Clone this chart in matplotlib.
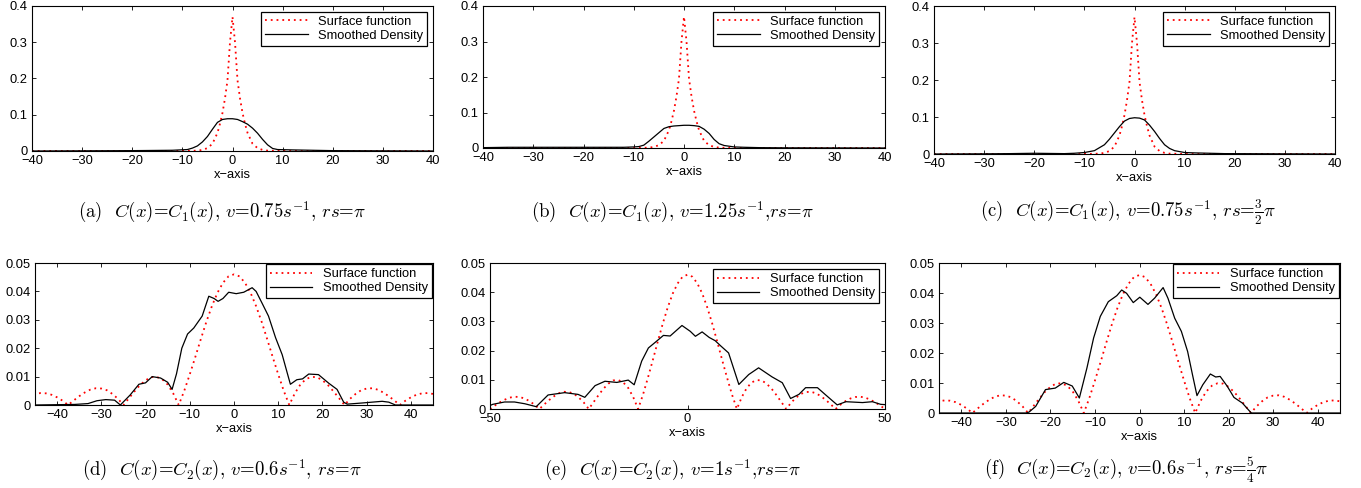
import numpy as np
import matplotlib
matplotlib.use("Agg")
import matplotlib.pyplot as plt

plt.rcParams['font.family'] = ['Liberation Sans', 'DejaVu Sans']
plt.rcParams['font.size'] = 9.3
plt.rcParams['mathtext.fontset'] = 'cm'

# ---- top row: surface function (same in a, b, c) ----
surf_top_x = [-40, -10, -7, -6, -5, -4, -3, -2.5, -2, -1.5, -1, -0.5, 0,
              0.5, 1, 1.5, 2, 2.5, 3, 4, 5, 6, 7, 10, 40]
surf_top_y = [0, 0, 0.001, 0.003, 0.008, 0.02, 0.05, 0.075, 0.105, 0.145, 0.195, 0.30, 0.37,
              0.30, 0.195, 0.145, 0.105, 0.075, 0.05, 0.02, 0.008, 0.003, 0.001, 0, 0]

# smoothed densities, top row
dens_a_x = [-40, -20, -12, -9, -8, -7, -6, -5, -4, -3, -2, -1, 0, 1, 2, 3, 4, 5, 6, 7, 8, 9,
            12, 20, 40]
dens_a_y = [0, 0.001, 0.002, 0.004, 0.008, 0.014, 0.025, 0.04, 0.06, 0.079, 0.087, 0.089, 0.089,
            0.087, 0.081, 0.074, 0.063, 0.049, 0.032, 0.017, 0.007, 0.004, 0.003, 0.001, 0]

dens_b_x = [-40, -35, -20, -12, -10, -9, -8, -7, -6, -5, -4, -3, -2, -1, 0, 1, 2, 3, 4, 5, 6,
            7, 8, 9, 10, 12, 15, 20, 40]
dens_b_y = [0.001, 0.002, 0.002, 0.002, 0.003, 0.004, 0.008, 0.019, 0.031, 0.043, 0.055, 0.06,
            0.062, 0.063, 0.064, 0.064, 0.063, 0.061, 0.053, 0.041, 0.024, 0.012, 0.007, 0.005,
            0.003, 0.002, 0.001, 0.0005, 0]

dens_c_x = [-40, -30, -25, -20, -17, -14, -12, -10, -8, -6, -5, -4, -3, -2, -1, 0, 1, 2, 3, 4,
            5, 6, 7, 8, 10, 12, 15, 18, 40]
dens_c_y = [0, 0.0005, 0.001, 0.002, 0.0015, 0.001, 0.002, 0.004, 0.009, 0.025, 0.04, 0.057,
            0.074, 0.089, 0.096, 0.098, 0.097, 0.092, 0.078, 0.061, 0.042, 0.025, 0.015, 0.009,
            0.004, 0.003, 0.002, 0.001, 0]

# ---- bottom row: surface function (symmetric, read for x >= 0 in steps of 1.25) ----
surf_bot_half = [0.046, 0.0453, 0.043, 0.0395, 0.0348, 0.0293, 0.0232, 0.0169, 0.0108, 0.0050,
                 0, 0.0041, 0.0072, 0.0091, 0.0099, 0.0098, 0.0087, 0.0070, 0.0048, 0.0024,
                 0, 0.0022, 0.0039, 0.0052, 0.0058, 0.0059, 0.0054, 0.0044, 0.0031, 0.0016,
                 0, 0.0015, 0.0027, 0.0036, 0.0041, 0.0042, 0.0039, 0.0032, 0.0023, 0.0012, 0]
surf_bot_y = surf_bot_half[::-1] + surf_bot_half[1:]
surf_bot_x = np.linspace(-50, 50, len(surf_bot_y))

dens_d_x = [-45, -36, -33, -31, -29, -27, -25.7, -23.5, -21.5, -20, -18.5, -16.6, -15, -14,
            -13, -11.8, -10.5, -9.1, -7.2, -5.7, -4.5, -3.6, -2.5, -1.2, 0.5, 2.2, 4.1, 5, 6.3,
            7.8, 9.4, 10.9, 12, 12.75, 14.2, 15.5, 16.9, 19.1, 21.4, 23.3, 24.8, 25.6, 28.9,
            33.5, 35, 36.5, 45]
dens_d_y = [0, 0.0002, 0.0005, 0.0015, 0.0019, 0.0017, 0.0, 0.0035, 0.0073, 0.0078, 0.01,
            0.0095, 0.008, 0.0055, 0.011, 0.020, 0.025, 0.0271, 0.0313, 0.0383, 0.0375, 0.0365,
            0.0375, 0.0397, 0.0392, 0.0397, 0.0413, 0.040, 0.036, 0.0313, 0.0237, 0.0177,
            0.0115, 0.0073, 0.0089, 0.0092, 0.0109, 0.0107, 0.0077, 0.0055, 0.001, 0.0003,
            0.0007, 0.0013, 0.001, 0, 0]

dens_e_x = [-50, -49.3, -46.3, -43.8, -41.2, -38.3, -35.3, -31.1, -27.7, -26, -23.4, -20.9,
            -17.9, -15, -13.5, -11.6, -9.9, -8.2, -6.1, -4.4, -1.4, 0.7, 2.0, 3.7, 5.5, 7.0,
            8.5, 10.4, 13, 15.5, 18, 21.4, 24, 26.1, 28.2, 29.9, 32.9, 35, 37.9, 40.1, 44.3,
            46.8, 48.9, 50]
dens_e_y = [0.0012, 0.0016, 0.0024, 0.0024, 0.0018, 0.0008, 0.0048, 0.0056, 0.005, 0.004,
            0.008, 0.0095, 0.0091, 0.0099, 0.0083, 0.0164, 0.0209, 0.0228, 0.0252, 0.025,
            0.0286, 0.0266, 0.0249, 0.0264, 0.0245, 0.0234, 0.0215, 0.0192, 0.0084, 0.0118,
            0.0141, 0.011, 0.009, 0.0036, 0.005, 0.0073, 0.0073, 0.0048, 0.0014, 0.0025,
            0.0022, 0.0025, 0.0016, 0.0015]

dens_f_x = [-45, -25.5, -24.8, -23.3, -21.1, -18.9, -17, -15.1, -13.5, -11.8, -10.3, -8.8, -7.0,
            -5.1, -4.0, -2.9, -1.4, 0.07, 1.9, 3.4, 5.3, 6.4, 7.9, 9.4, 10.8, 11.9, 12.9, 14.2,
            15.9, 17.1, 18.1, 19.7, 21.2, 23.1, 24.6, 25.1, 45]
dens_f_y = [0, 0, 0.0003, 0.0022, 0.0078, 0.0083, 0.0102, 0.009, 0.005, 0.015, 0.025, 0.0322,
            0.0371, 0.0391, 0.041, 0.0399, 0.0368, 0.0386, 0.0362, 0.0383, 0.0418, 0.0382,
            0.0316, 0.0272, 0.0205, 0.0127, 0.0058, 0.0094, 0.013, 0.012, 0.0122, 0.0089,
            0.0052, 0.0033, 0.0008, 0, 0]

captions = [
    r"(a)  $C(x)$=$C_1(x)$, $v$=0.75$s^{-1}$, $rs$=$\pi$",
    r"(b)  $C(x)$=$C_1(x)$, $v$=1.25$s^{-1}$,$rs$=$\pi$",
    r"(c)  $C(x)$=$C_1(x)$, $v$=0.75$s^{-1}$, $rs$=$\frac{3}{2}\pi$",
    r"(d)  $C(x)$=$C_2(x)$, $v$=0.6$s^{-1}$, $rs$=$\pi$",
    r"(e)  $C(x)$=$C_2(x)$, $v$=1$s^{-1}$,$rs$=$\pi$",
    r"(f)  $C(x)$=$C_2(x)$, $v$=0.6$s^{-1}$, $rs$=$\frac{5}{4}\pi$",
]

W, H = 1361, 488
# axes boxes in pixels: left, right, top, bottom
boxes = [(32, 433, 6, 151), (483, 885, 6, 148), (934, 1335, 6, 154),
         (35, 433, 263, 405), (490, 885, 263, 409), (939, 1340, 263, 413)]
cap_pos = [(222, 212), (672, 212), (1128, 212), (222, 470), (672, 470), (1126, 470)]
leg_pad = [0.45, 0.45, 0.45, 0.1, 0.5, 0.1]

panels = [
    (surf_top_x, surf_top_y, dens_a_x, dens_a_y, (-40, 40), (0, 0.4)),
    (surf_top_x, surf_top_y, dens_b_x, dens_b_y, (-40, 40), (0, 0.4)),
    (surf_top_x, surf_top_y, dens_c_x, dens_c_y, (-40, 40), (0, 0.4)),
    (surf_bot_x, surf_bot_y, dens_d_x, dens_d_y, (-45, 45), (0, 0.05)),
    (surf_bot_x, surf_bot_y, dens_e_x, dens_e_y, (-50, 50), (0, 0.05)),
    (surf_bot_x, surf_bot_y, dens_f_x, dens_f_y, (-45, 45), (0, 0.05)),
]

fig = plt.figure(figsize=(W / 100, H / 100), dpi=100)

for i, (sx, sy, dx, dy, xl, yl) in enumerate(panels):
    l, r, t, b = boxes[i]
    ax = fig.add_axes([l / W, 1 - b / H, (r - l) / W, (b - t) / H])
    ax.plot(sx, sy, color='red', linestyle=(0, (1, 2.2)), linewidth=1.3,
            label='Surface function')
    ax.plot(dx, dy, color='black', linewidth=0.9, label='Smoothed Density')
    ax.set_xlim(*xl)
    ax.set_ylim(*yl)
    if i < 3:
        ax.set_xticks(np.arange(-40, 41, 10))
        ax.set_yticks([0, 0.1, 0.2, 0.3, 0.4])
        ax.set_yticklabels(['0', '0.1', '0.2', '0.3', '0.4'])
    else:
        if i == 4:
            ax.set_xticks([-50, 0, 50])
        else:
            ax.set_xticks(np.arange(-40, 41, 10))
        ax.set_yticks([0, 0.01, 0.02, 0.03, 0.04, 0.05])
        ax.set_yticklabels(['0', '0.01', '0.02', '0.03', '0.04', '0.05'])
    ax.tick_params(direction='in', top=True, right=True, length=3, width=0.6, pad=3)
    for s in ax.spines.values():
        s.set_linewidth(0.8)
    ax.set_xlabel('x\u2212axis', labelpad=1)
    leg = ax.legend(loc='upper right', fancybox=False, edgecolor='black', framealpha=1,
                    handlelength=3.3, borderaxespad=leg_pad[i], borderpad=0.3,
                    labelspacing=0.15, handletextpad=0.8, fontsize=9.3)
    leg.get_frame().set_linewidth(0.9)
    cx, cy = cap_pos[i]
    fig.text(cx / W, 1 - cy / H, captions[i], ha='center', va='center',
             fontsize=13.5, family='cmr10')

fig.savefig('out.png', dpi=100)
